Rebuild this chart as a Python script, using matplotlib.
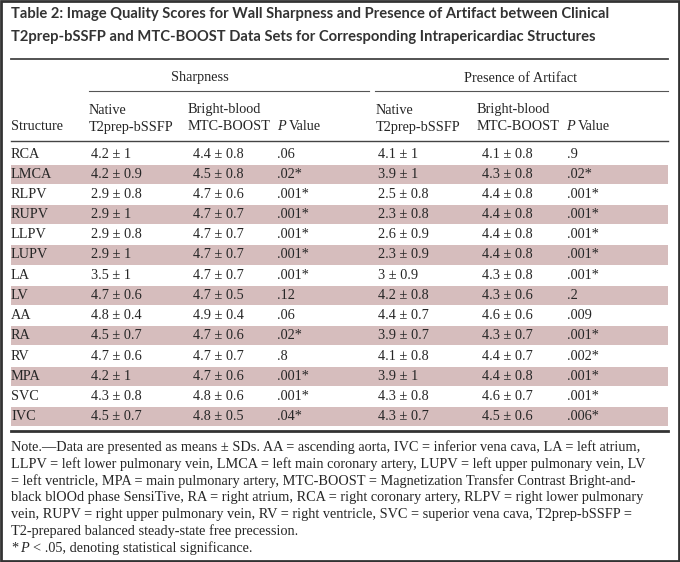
import matplotlib.pyplot as plt
from matplotlib.patches import Rectangle

# table content
structures = ['RCA', 'LMCA', 'RLPV', 'RUPV', 'LLPV', 'LUPV', 'LA',
              'LV', 'AA', 'RA', 'RV', 'MPA', 'SVC', 'IVC']

sharp_native_mean = [4.2, 4.2, 2.9, 2.9, 2.9, 2.9, 3.5, 4.7, 4.8, 4.5, 4.7, 4.2, 4.3, 4.5]
sharp_native_sd = [1, 0.9, 0.8, 1, 0.8, 1, 1, 0.6, 0.4, 0.7, 0.6, 1, 0.8, 0.7]
sharp_boost_mean = [4.4, 4.5, 4.7, 4.7, 4.7, 4.7, 4.7, 4.7, 4.9, 4.7, 4.7, 4.7, 4.8, 4.8]
sharp_boost_sd = [0.8, 0.8, 0.6, 0.7, 0.7, 0.7, 0.7, 0.5, 0.4, 0.6, 0.7, 0.6, 0.6, 0.5]
sharp_p = ['.06', '.02', '.001', '.001', '.001', '.001', '.001', '.12', '.06', '.02', '.8', '.001', '.001', '.04']
sharp_sig = [0, 1, 1, 1, 1, 1, 1, 0, 0, 1, 0, 1, 1, 1]

art_native_mean = [4.1, 3.9, 2.5, 2.3, 2.6, 2.3, 3, 4.2, 4.4, 3.9, 4.1, 3.9, 4.3, 4.3]
art_native_sd = [1, 1, 0.8, 0.8, 0.9, 0.9, 0.9, 0.8, 0.7, 0.7, 0.8, 1, 0.8, 0.7]
art_boost_mean = [4.1, 4.3, 4.4, 4.4, 4.4, 4.4, 4.3, 4.3, 4.6, 4.3, 4.4, 4.4, 4.6, 4.5]
art_boost_sd = [0.8, 0.8, 0.8, 0.8, 0.8, 0.8, 0.8, 0.6, 0.6, 0.7, 0.7, 0.8, 0.7, 0.6]
art_p = ['.9', '.02', '.001', '.001', '.001', '.001', '.001', '.2', '.009', '.001', '.002', '.001', '.001', '.006']
art_sig = [0, 1, 1, 1, 1, 1, 1, 0, 0, 1, 1, 1, 1, 1]

title_lines = ['Table 2: Image Quality Scores for Wall Sharpness and Presence of Artifact between Clinical',
               'T2prep-bSSFP and MTC-BOOST Data Sets for Corresponding Intrapericardiac Structures']
note_lines = [
    'Note.\u2014Data are presented as means \u00b1 SDs. AA = ascending aorta, IVC = inferior vena cava, LA = left atrium,',
    'LLPV = left lower pulmonary vein, LMCA = left main coronary artery, LUPV = left upper pulmonary vein, LV',
    '= left ventricle, MPA = main pulmonary artery, MTC-BOOST = Magnetization Transfer Contrast Bright-and-',
    'black blOOd phase SensiTive, RA = right atrium, RCA = right coronary artery, RLPV = right lower pulmonary',
    'vein, RUPV = right upper pulmonary vein, RV = right ventricle, SVC = superior vena cava, T2prep-bSSFP =',
    'T2-prepared balanced steady-state free precession.',
]

W, H = 680, 562
fig = plt.figure(figsize=(W / 100, H / 100), dpi=100)
ax = fig.add_axes([0, 0, 1, 1])
ax.set_xlim(0, W)
ax.set_ylim(H, 0)
ax.axis('off')

txt = '#262626'
shade = '#d6bdbd'
serif = 'Liberation Serif'
fs = 10.3

# border
ax.add_patch(Rectangle((1, 1), W - 2, H - 2, fill=False, ec='#333333', lw=2))

# title
for i, t in enumerate(title_lines):
    ax.text(11, 14 + 22.5 * i, t, fontsize=10.6, fontweight='bold', family='Lato',
            color='#333333', va='center')
ax.plot([11, 668], [59, 59], color='#444444', lw=1.3)

# group headers
ax.text(200, 78, 'Sharpness', family=serif, fontsize=fs, color=txt, ha='center', va='center')
ax.text(521, 78, 'Presence of Artifact', family=serif, fontsize=fs, color=txt, ha='center', va='center')
ax.plot([89, 369], [91, 91], color='#555555', lw=0.8)
ax.plot([375, 668], [91, 91], color='#555555', lw=0.8)

col_x = [11, 89, 188, 277, 376, 477, 566]
val_x = [11, 91, 193, 277, 378, 482, 567]
ax.text(col_x[0], 127, 'Structure', family=serif, fontsize=fs, color=txt, va='center')
for k in (0, 1):
    ax.text(col_x[1 + 3 * k], 110, 'Native', family=serif, fontsize=fs, color=txt, va='center')
    ax.text(col_x[1 + 3 * k], 127, 'T2prep-bSSFP', family=serif, fontsize=fs, color=txt, va='center')
    ax.text(col_x[2 + 3 * k], 110, 'Bright-blood', family=serif, fontsize=fs, color=txt, va='center')
    ax.text(col_x[2 + 3 * k], 127, 'MTC-BOOST', family=serif, fontsize=fs, color=txt, va='center')
    ax.text(col_x[3 + 3 * k], 127, 'P', family=serif, fontsize=fs, color=txt, va='center', style='italic')
    ax.text(col_x[3 + 3 * k] + 11.5, 127, 'Value', family=serif, fontsize=fs, color=txt, va='center')
ax.plot([11, 668], [141, 141], color='#444444', lw=1.0)

# body rows
y0, dy = 154, 20.2
for i, s in enumerate(structures):
    y = y0 + i * dy
    if i % 2 == 1:
        ax.add_patch(Rectangle((11, y - dy / 2 + 0.5), 657, dy - 1, color=shade, lw=0))
    cells = [s,
             f'{sharp_native_mean[i]:g} \u00b1 {sharp_native_sd[i]:g}',
             f'{sharp_boost_mean[i]:g} \u00b1 {sharp_boost_sd[i]:g}',
             sharp_p[i] + ('*' if sharp_sig[i] else ''),
             f'{art_native_mean[i]:g} \u00b1 {art_native_sd[i]:g}',
             f'{art_boost_mean[i]:g} \u00b1 {art_boost_sd[i]:g}',
             art_p[i] + ('*' if art_sig[i] else '')]
    for x, c in zip(val_x, cells):
        ax.text(x, y, c, family=serif, fontsize=fs, color=txt, va='center')
ax.plot([11, 668], [431, 431], color='#333333', lw=2)

# notes
for i, t in enumerate(note_lines):
    ax.text(11, 447 + 16.9 * i, t, family=serif, fontsize=fs, color=txt, va='center')
yl = 447 + 16.9 * 6
ax.text(11, yl, '*', family=serif, fontsize=fs, color=txt, va='center')
ax.text(20, yl, 'P', family=serif, fontsize=fs, color=txt, va='center', style='italic')
ax.text(33, yl, '< .05, denoting statistical significance.', family=serif, fontsize=fs, color=txt, va='center')

fig.savefig('out.png', dpi=100, facecolor='white')
